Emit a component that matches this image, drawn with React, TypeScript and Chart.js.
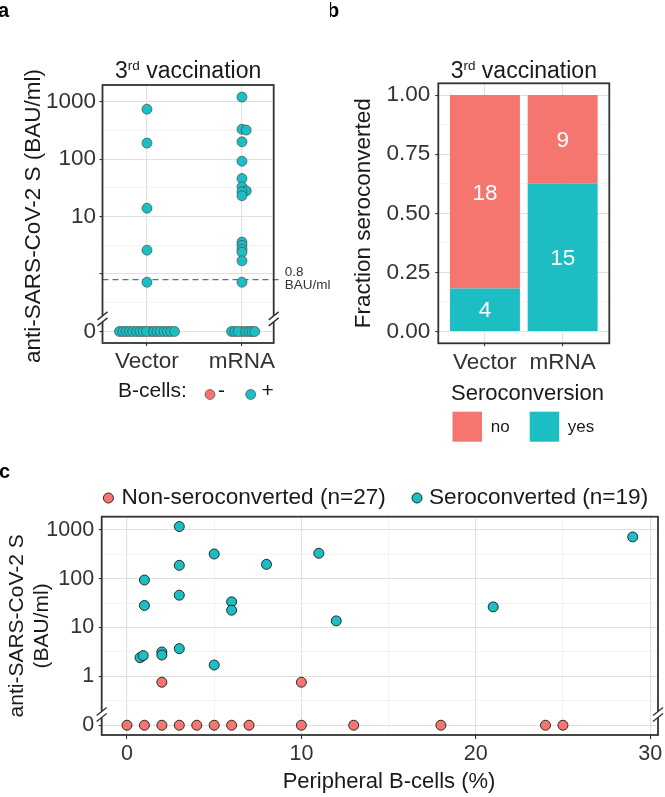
import React, { useEffect, useRef } from 'react';
import { Chart, registerables } from 'chart.js';

Chart.register(...registerables);

const FONT = '"Liberation Sans", Arial, Helvetica, sans-serif';
const RED = '#F4766E';
const TEAL = '#1DBEC3';
const INK = '#1a1a1a';
const TICK = '#333333';
const GRID_MAJOR = '#e0e0e0';
const GRID_MINOR = '#ebebeb';

// ---------------- Panel a : antibody titre by vaccine, coloured by B-cells ----------------
const groupsA = ['Vector', 'mRNA'];
// B-cells "+" (teal), non-zero titres
const vectorPosValues = [740, 190, 14, 2.6, 0.72];
const vectorPosJitter = [0, 0, 0, 0, 0];
// B-cells "+" (teal), titre 0 (beeswarm offsets)
const vectorPosZeroJitter = [-0.29, -0.255, -0.22, -0.185, -0.15, -0.11, -0.075, -0.04, -0.005, 0.07, 0.105, 0.14, 0.18, 0.215, 0.25, 0.29];
// B-cells "-" (red)
const vectorNegValues = [0];
const vectorNegJitter = [0.035];

const mrnaPosValues = [1200, 330, 320, 200, 92, 46, 33, 28, 27, 23, 3.6, 3.15, 2.7, 2.4, 1.7, 0.72];
const mrnaPosJitter = [0, 0, 0.045, 0, 0, 0, 0, 0.045, 0, 0, 0, 0, 0, 0, 0, 0];
const mrnaPosZeroJitter = [-0.11, -0.075, -0.04, 0.04, 0.075, 0.105, 0.135];
const mrnaNegValues = [0];
const mrnaNegJitter = [0];

const thresholdA = 0.8;

// log axis with a break: 0 is shown one decade below 1
const ZERO_LOG = -1;
const BREAK_LOG = -0.78;
const toLog = (v: number) => (v > 0 ? Math.log10(v) : ZERO_LOG);
const LOG_GRID = [-1, -0.5, 0, 0.5, 1, 1.5, 2, 2.5, 3];
const yTickValuesA = [0, 10, 100, 1000];
const yTickLabelsA = ['0', '10', '100', '1000'];
const yTickValuesC = [0, 1, 10, 100, 1000];
const yTickLabelsC = ['0', '1', '10', '100', '1000'];

// ---------------- Panel b : fraction seroconverted ----------------
const groupsB = ['Vector', 'mRNA'];
const noCounts = [18, 9];
const yesCounts = [4, 15];
const yTickValuesB = [0, 0.25, 0.5, 0.75, 1];
const yTickLabelsB = ['0.00', '0.25', '0.50', '0.75', '1.00'];
const yGridB = [0, 0.125, 0.25, 0.375, 0.5, 0.625, 0.75, 0.875, 1];

// ---------------- Panel c : titre vs peripheral B-cells ----------------
const nonSeroX = [0, 1, 2, 3, 4, 5, 6, 7, 10, 13, 18, 24, 25, 2, 10];
const nonSeroY = [0, 0, 0, 0, 0, 0, 0, 0, 0, 0, 0, 0, 0, 0.76, 0.76];
const seroX = [3, 5, 11, 3, 8, 1, 3, 6, 6, 1, 21, 12, 29, 0.75, 0.93, 2, 2, 3, 5];
const seroY = [1170, 321, 332, 188, 197, 94, 46, 33.6, 22.7, 28.3, 26.5, 13.7, 718, 2.42, 2.66, 3.16, 2.74, 3.7, 1.71];
const xTickValuesC = [0, 10, 20, 30];
const xGridC = [0, 5, 10, 15, 20, 25, 30];
const legendC = ['Non-seroconverted (n=27)', 'Seroconverted (n=19)'];

// ---------------- helpers ----------------
function text(ctx: CanvasRenderingContext2D, s: string, x: number, y: number, size: number, o: any = {}) {
  ctx.save();
  ctx.font = `${o.bold ? 'bold ' : ''}${size}px ${FONT}`;
  ctx.fillStyle = o.color || INK;
  ctx.textAlign = o.align || 'center';
  ctx.textBaseline = o.baseline || 'middle';
  if (o.rotate) {
    ctx.translate(x, y);
    ctx.rotate(o.rotate);
    ctx.fillText(s, 0, 0);
  } else ctx.fillText(s, x, y);
  ctx.restore();
}

function drawBox(ctx: CanvasRenderingContext2D, a: any) {
  ctx.save();
  ctx.strokeStyle = '#333';
  ctx.lineWidth = 1.8;
  ctx.strokeRect(a.left, a.top, a.right - a.left, a.bottom - a.top);
  ctx.restore();
}

function drawBreak(ctx: CanvasRenderingContext2D, x: number, y: number) {
  ctx.save();
  ctx.fillStyle = '#ffffff';
  ctx.fillRect(x - 3, y - 3, 6, 6);
  ctx.strokeStyle = '#333';
  ctx.lineWidth = 1.4;
  for (const dy of [-3, 3]) {
    ctx.beginPath();
    ctx.moveTo(x - 5, y + dy + 4);
    ctx.lineTo(x + 5, y + dy - 4);
    ctx.stroke();
  }
  ctx.restore();
}

function drawTitle(ctx: CanvasRenderingContext2D, cx: number, baseline: number) {
  const big = `23px ${FONT}`;
  const small = `13.5px ${FONT}`;
  ctx.save();
  ctx.fillStyle = INK;
  ctx.textBaseline = 'alphabetic';
  ctx.textAlign = 'left';
  ctx.font = big;
  const w3 = ctx.measureText('3').width;
  const wv = ctx.measureText(' vaccination').width;
  ctx.font = small;
  const wr = ctx.measureText('rd').width;
  let x = cx - (w3 + wr + wv) / 2;
  ctx.font = big;
  ctx.fillText('3', x, baseline);
  x += w3;
  ctx.font = small;
  ctx.fillText('rd', x, baseline - 8.5);
  x += wr;
  ctx.font = big;
  ctx.fillText(' vaccination', x, baseline);
  ctx.restore();
}

const isHalf = (v: number) => Math.abs(v - Math.round(v)) > 0.1;

function logY(min: number, max: number, width: number, values: number[], labels: string[], size: number, pad: number) {
  const logs = values.map(toLog);
  return {
    type: 'linear',
    min,
    max,
    bounds: 'data',
    afterBuildTicks: (s: any) => {
      s.ticks = LOG_GRID.map((v) => ({ value: v }));
    },
    afterFit: (s: any) => {
      s.width = width;
    },
    ticks: {
      autoSkip: false,
      padding: pad,
      color: TICK,
      font: { family: FONT, size },
      callback: (v: number) => {
        const i = logs.findIndex((l) => Math.abs(l - v) < 1e-6);
        return i >= 0 ? labels[i] : '';
      },
    },
    grid: {
      color: (c: any) => (c.tick && isHalf(c.tick.value) ? GRID_MINOR : GRID_MAJOR),
      lineWidth: (c: any) => (c.tick && isHalf(c.tick.value) ? 0.6 : 1.1),
      tickColor: (c: any) => (c.tick && isHalf(c.tick.value) ? 'rgba(0,0,0,0)' : TICK),
      tickLength: 3,
      tickWidth: 1.1,
    },
    border: { display: false },
  };
}

function catX(min: number, max: number, height: number, labels: string[], size: number, tl: number, pad: number) {
  return {
    type: 'linear',
    min,
    max,
    bounds: 'data',
    offset: false,
    stacked: true,
    afterBuildTicks: (s: any) => {
      s.ticks = labels.map((_, i) => ({ value: i + 1 }));
    },
    afterFit: (s: any) => {
      s.height = height;
    },
    ticks: {
      autoSkip: false,
      maxRotation: 0,
      minRotation: 0,
      padding: pad,
      color: TICK,
      font: { family: FONT, size },
      callback: (v: number) => labels[Math.round(v) - 1] ?? '',
    },
    grid: { offset: false, color: GRID_MAJOR, lineWidth: 1.1, tickColor: TICK, tickLength: tl, tickWidth: 1.1 },
    border: { display: false },
  };
}

const basePlugins = { legend: { display: false }, title: { display: false }, tooltip: { enabled: false } };

// ---------------- Panel a chart ----------------
function makeA(canvas: HTMLCanvasElement) {
  const teal = [
    ...vectorPosValues.map((v, i) => ({ x: 1 + vectorPosJitter[i], y: toLog(v) })),
    ...vectorPosZeroJitter.map((j) => ({ x: 1 + j, y: toLog(0) })),
    ...mrnaPosValues.map((v, i) => ({ x: 2 + mrnaPosJitter[i], y: toLog(v) })),
    ...mrnaPosZeroJitter.map((j) => ({ x: 2 + j, y: toLog(0) })),
  ];
  const red = [
    ...vectorNegValues.map((v, i) => ({ x: 1 + vectorNegJitter[i], y: toLog(v) })),
    ...mrnaNegValues.map((v, i) => ({ x: 2 + mrnaNegJitter[i], y: toLog(v) })),
  ];
  const plug = {
    id: 'panelA',
    beforeDatasetsDraw(chart: any) {
      const { ctx, chartArea: a, scales } = chart;
      const py = scales.y.getPixelForValue(Math.log10(thresholdA));
      ctx.save();
      ctx.strokeStyle = '#5069d0';
      ctx.lineWidth = 1.2;
      ctx.setLineDash([6, 4]);
      ctx.beginPath();
      ctx.moveTo(a.left, py);
      ctx.lineTo(a.right + 7, py);
      ctx.stroke();
      ctx.restore();
    },
    afterDraw(chart: any) {
      const { ctx, chartArea: a, scales } = chart;
      drawBox(ctx, a);
      const by = scales.y.getPixelForValue(BREAK_LOG);
      drawBreak(ctx, a.left, by);
      drawBreak(ctx, a.right, by);
      const py = scales.y.getPixelForValue(Math.log10(thresholdA));
      text(ctx, String(thresholdA), a.right + 11, py - 7, 13.5, { align: 'left', color: '#333' });
      text(ctx, 'BAU/ml', a.right + 11, py + 5.5, 13.5, { align: 'left', color: '#333' });
      drawTitle(ctx, (a.left + a.right) / 2, 78);
      text(ctx, 'anti-SARS-CoV-2 S (BAU/ml)', 34, (a.top + a.bottom) / 2 + 2, 22.5, { rotate: -Math.PI / 2 });
      // legend
      text(ctx, 'B-cells:', 118, 391, 21, { align: 'left' });
      const dot = (x: number, c: string) => {
        ctx.save();
        ctx.beginPath();
        ctx.arc(x, 394.5, 5, 0, Math.PI * 2);
        ctx.fillStyle = c;
        ctx.fill();
        ctx.strokeStyle = '#3d3d3d';
        ctx.lineWidth = 0.6;
        ctx.stroke();
        ctx.restore();
      };
      dot(210, RED);
      text(ctx, '-', 218, 391, 21, { align: 'left' });
      dot(250.7, TEAL);
      text(ctx, '+', 261.5, 391, 21, { align: 'left' });
      text(ctx, 'a', -2, 17, 20, { align: 'left', baseline: 'alphabetic', bold: true, color: '#000' });
    },
  };
  return new Chart(canvas, {
    type: 'scatter',
    data: {
      datasets: [
        { label: 'B-cells +', data: teal, backgroundColor: TEAL, borderColor: '#3d3d3d', borderWidth: 0.6, pointRadius: 5 },
        { label: 'B-cells -', data: red, backgroundColor: RED, borderColor: '#3d3d3d', borderWidth: 0.6, pointRadius: 5 },
      ],
    },
    options: {
      responsive: false,
      animation: false,
      devicePixelRatio: 1,
      events: [],
      layout: { padding: { left: 0, top: 85, right: 56.3, bottom: 0 } },
      plugins: basePlugins,
      scales: {
        x: { ...catX(0.532, 2.334, 67, groupsA, 22.5, 3, 2), stacked: false },
        y: logY(-1.2, 3.29, 102.5, yTickValuesA, yTickLabelsA, 22.5, 3.5),
      },
    } as any,
    plugins: [plug],
  });
}

// ---------------- Panel b chart ----------------
function makeB(canvas: HTMLCanvasElement) {
  const totals = noCounts.map((n, i) => n + yesCounts[i]);
  const yesData = yesCounts.map((c, i) => ({ x: i + 1, y: c / totals[i] }));
  const noData = noCounts.map((c, i) => ({ x: i + 1, y: c / totals[i] }));
  const isMajorB = (v: number) => yTickValuesB.some((t) => Math.abs(t - v) < 1e-6);
  const plug = {
    id: 'panelB',
    afterDatasetsDraw(chart: any) {
      const { ctx } = chart;
      const counts = [yesCounts, noCounts];
      [0, 1].forEach((d) => {
        const meta = chart.getDatasetMeta(d);
        meta.data.forEach((bar: any, i: number) => {
          text(ctx, String(counts[d][i]), bar.x, (bar.y + bar.base) / 2 + 1.5, 22.5, { color: '#ffffff' });
        });
      });
    },
    afterDraw(chart: any) {
      const { ctx, chartArea: a } = chart;
      drawBox(ctx, a);
      drawTitle(ctx, (a.left + a.right) / 2, 78);
      text(ctx, 'Fraction seroconverted', 34, (a.top + a.bottom) / 2, 22.5, { rotate: -Math.PI / 2 });
      text(ctx, 'Seroconversion', 197.5, 394, 22);
      ctx.save();
      ctx.fillStyle = RED;
      ctx.fillRect(122.5, 411.7, 29.5, 30);
      ctx.fillStyle = TEAL;
      ctx.fillRect(199.7, 411.7, 29.5, 30);
      ctx.restore();
      text(ctx, 'no', 160.7, 427, 17, { align: 'left' });
      text(ctx, 'yes', 237.8, 427, 17, { align: 'left' });
      text(ctx, 'b', -3, 17, 20, { align: 'left', baseline: 'alphabetic', bold: true, color: '#000' });
    },
  };
  return new Chart(canvas, {
    type: 'bar',
    data: {
      datasets: [
        { label: 'yes', data: yesData, backgroundColor: TEAL, borderWidth: 0, categoryPercentage: 1, barPercentage: 0.9 },
        { label: 'no', data: noData, backgroundColor: RED, borderWidth: 0, categoryPercentage: 1, barPercentage: 0.9 },
      ],
    },
    options: {
      responsive: false,
      animation: false,
      devicePixelRatio: 1,
      events: [],
      layout: { padding: { left: 0, top: 83.3, right: 55.7, bottom: 0 } },
      plugins: basePlugins,
      scales: {
        x: catX(0.4, 2.6, 106.7, groupsB, 22.5, 3, 3),
        y: {
          type: 'linear',
          min: -0.05,
          max: 1.05,
          bounds: 'data',
          stacked: true,
          afterBuildTicks: (s: any) => {
            s.ticks = yGridB.map((v) => ({ value: v }));
          },
          afterFit: (s: any) => {
            s.width = 108.3;
          },
          ticks: {
            autoSkip: false,
            padding: 5,
            color: TICK,
            font: { family: FONT, size: 22.5 },
            callback: (v: number) => {
              const i = yTickValuesB.findIndex((l) => Math.abs(l - v) < 1e-6);
              return i >= 0 ? yTickLabelsB[i] : '';
            },
          },
          grid: {
            color: (c: any) => (c.tick && isMajorB(c.tick.value) ? GRID_MAJOR : GRID_MINOR),
            lineWidth: (c: any) => (c.tick && isMajorB(c.tick.value) ? 1.1 : 0.6),
            tickColor: (c: any) => (c.tick && isMajorB(c.tick.value) ? TICK : 'rgba(0,0,0,0)'),
            tickLength: 3,
            tickWidth: 1.1,
          },
          border: { display: false },
        },
      },
    } as any,
    plugins: [plug],
  });
}

// ---------------- Panel c chart ----------------
function makeC(canvas: HTMLCanvasElement) {
  const red = nonSeroX.map((x, i) => ({ x, y: toLog(nonSeroY[i]) }));
  const teal = seroX.map((x, i) => ({ x, y: toLog(seroY[i]) }));
  const plug = {
    id: 'panelC',
    afterDraw(chart: any) {
      const { ctx, chartArea: a, scales } = chart;
      drawBox(ctx, a);
      const by = scales.y.getPixelForValue(BREAK_LOG);
      drawBreak(ctx, a.left, by);
      drawBreak(ctx, a.right, by);
      const dot = (x: number, y: number, c: string) => {
        ctx.save();
        ctx.beginPath();
        ctx.arc(x, y, 5, 0, Math.PI * 2);
        ctx.fillStyle = c;
        ctx.fill();
        ctx.strokeStyle = '#1a1a1a';
        ctx.lineWidth = 0.9;
        ctx.stroke();
        ctx.restore();
      };
      dot(108.4, 43, RED);
      text(ctx, legendC[0], 121.5, 43, 22.6, { align: 'left' });
      dot(417, 43, TEAL);
      text(ctx, legendC[1], 429, 43, 22.6, { align: 'left' });
      const cy = (a.top + a.bottom) / 2;
      text(ctx, 'anti-SARS-CoV-2 S', 17, cy, 21, { rotate: -Math.PI / 2 });
      text(ctx, '(BAU/ml)', 42, cy, 21, { rotate: -Math.PI / 2 });
      text(ctx, 'Peripheral B-cells (%)', 389, 327, 22);
      text(ctx, 'c', -1, 23, 20, { align: 'left', baseline: 'alphabetic', bold: true, color: '#000' });
    },
  };
  return new Chart(canvas, {
    type: 'scatter',
    data: {
      datasets: [
        { label: legendC[0], data: red, backgroundColor: RED, borderColor: '#1a1a1a', borderWidth: 0.9, pointRadius: 5 },
        { label: legendC[1], data: teal, backgroundColor: TEAL, borderColor: '#1a1a1a', borderWidth: 0.9, pointRadius: 5 },
      ],
    },
    options: {
      responsive: false,
      animation: false,
      devicePixelRatio: 1,
      events: [],
      layout: { padding: { left: 0, top: 61.7, right: 7, bottom: 0 } },
      plugins: basePlugins,
      scales: {
        x: {
          type: 'linear',
          min: -1.45,
          max: 30.45,
          bounds: 'data',
          afterBuildTicks: (s: any) => {
            s.ticks = xGridC.map((v) => ({ value: v }));
          },
          afterFit: (s: any) => {
            s.height = 62;
          },
          ticks: {
            autoSkip: false,
            maxRotation: 0,
            minRotation: 0,
            padding: 2,
            color: TICK,
            font: { family: FONT, size: 21.5 },
            callback: (v: number) => (xTickValuesC.includes(v) ? String(v) : ''),
          },
          grid: {
            color: (c: any) => (c.tick && xTickValuesC.includes(c.tick.value) ? GRID_MAJOR : GRID_MINOR),
            lineWidth: (c: any) => (c.tick && xTickValuesC.includes(c.tick.value) ? 1.1 : 0.6),
            tickColor: (c: any) => (c.tick && xTickValuesC.includes(c.tick.value) ? TICK : 'rgba(0,0,0,0)'),
            tickLength: 4,
            tickWidth: 1.1,
          },
          border: { display: false },
        },
        y: logY(-1.2, 3.27, 101.7, yTickValuesC, yTickLabelsC, 21.5, 4.5),
      },
    } as any,
    plugins: [plug],
  });
}

export default function App() {
  const refA = useRef<HTMLCanvasElement>(null);
  const refB = useRef<HTMLCanvasElement>(null);
  const refC = useRef<HTMLCanvasElement>(null);
  useEffect(() => {
    const charts = [makeA(refA.current!), makeB(refB.current!), makeC(refC.current!)];
    return () => charts.forEach((c) => c.destroy());
  }, []);
  return (
    <div style={{ position: 'absolute', left: 0, top: 0, width: 665, height: 797, background: '#ffffff', overflow: 'hidden' }}>
      <canvas ref={refA} width={330} height={410} style={{ position: 'absolute', left: 0, top: 0, width: 330, height: 410 }} />
      <canvas ref={refB} width={335} height={450} style={{ position: 'absolute', left: 330, top: 0, width: 335, height: 450 }} />
      <canvas ref={refC} width={665} height={342} style={{ position: 'absolute', left: 0, top: 455, width: 665, height: 342 }} />
    </div>
  );
}
